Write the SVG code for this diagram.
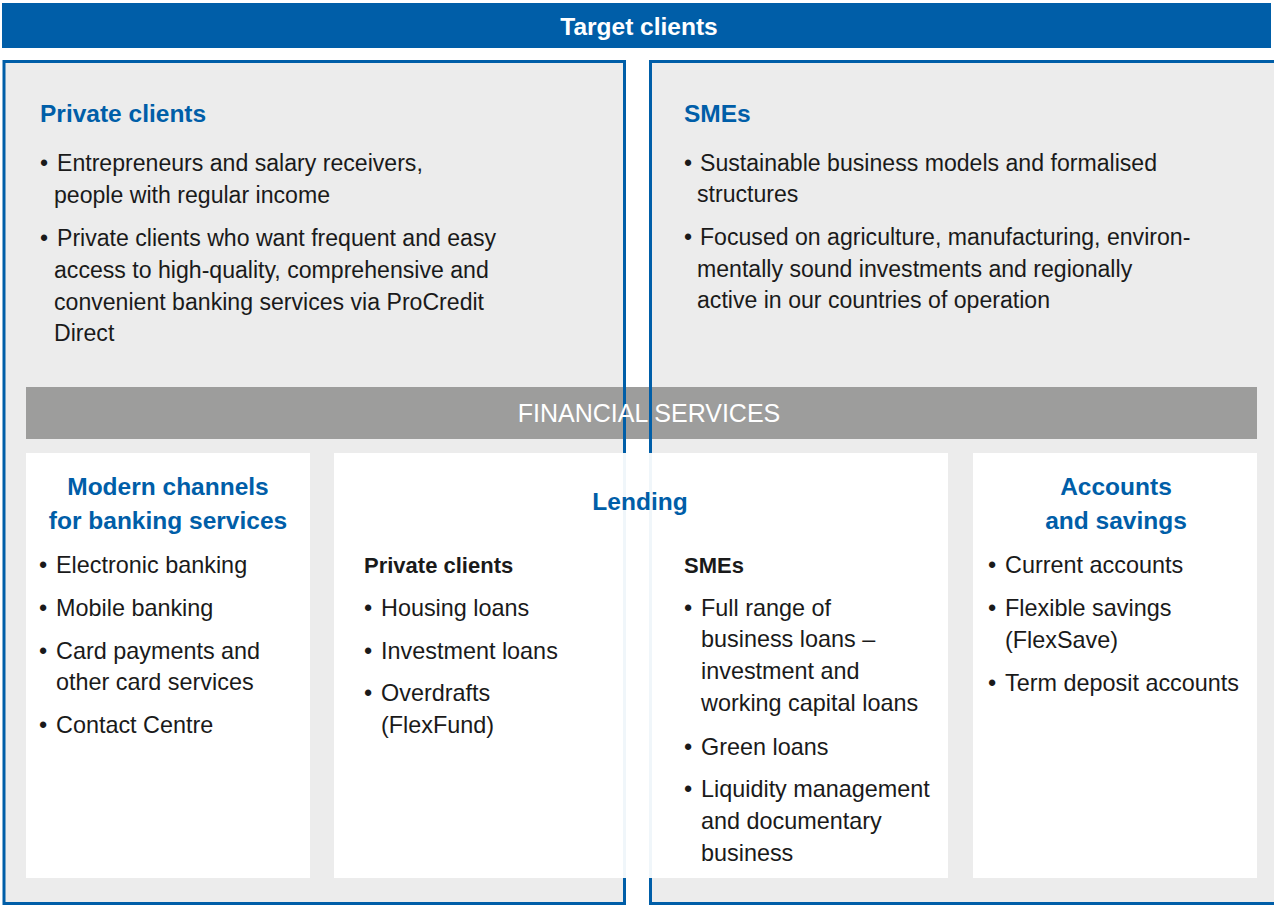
<svg xmlns="http://www.w3.org/2000/svg" width="1274" height="905" viewBox="0 0 1274 905">
<style>
text{font-family:"Liberation Sans",Arial,sans-serif;}
.panel{fill:#ECECEC;stroke:#005EA8;stroke-width:3;}
.box{fill:#FFFFFF;}
.h1{font-size:24.5px;font-weight:bold;fill:#005EA8;}
.hc{font-size:24.5px;font-weight:bold;fill:#005EA8;text-anchor:middle;}
.sub{font-size:22px;font-weight:bold;fill:#1A1A1A;}
.t{font-size:23.4px;fill:#1A1A1A;}
.tp{font-size:23.1px;fill:#1A1A1A;}
.white{fill:#FFFFFF;text-anchor:middle;}
</style>

<g id="target-clients-bar">
<rect x="2" y="3" width="1269" height="45" fill="#005EA8"/>
<text class="white" x="639" y="35" font-size="24.5" font-weight="bold">Target clients</text>
</g>

<g id="private-clients-panel">
<rect class="panel" x="4" y="61.5" width="620.5" height="842"/>
<text class="h1" x="40" y="122">Private clients</text>
<text class="tp"><tspan x="40" y="171">•</tspan><tspan x="57" y="171">Entrepreneurs and salary receivers,</tspan></text>
<text class="tp" x="54" y="203">people with regular income</text>
<text class="tp"><tspan x="40" y="246">•</tspan><tspan x="57" y="246">Private clients who want frequent and easy</tspan></text>
<text class="tp" x="54" y="278">access to high-quality, comprehensive and</text>
<text class="tp" x="54" y="310">convenient banking services via ProCredit</text>
<text class="tp" x="54" y="341">Direct</text>
</g>

<g id="smes-panel">
<rect class="panel" x="650.5" y="61.5" width="625" height="842"/>
<text class="h1" x="684" y="122">SMEs</text>
<text class="tp"><tspan x="684" y="171">•</tspan><tspan x="700" y="171">Sustainable business models and formalised</tspan></text>
<text class="tp" x="697" y="202">structures</text>
<text class="tp"><tspan x="684" y="245">•</tspan><tspan x="700" y="245">Focused on agriculture, manufacturing, environ-</tspan></text>
<text class="tp" x="697" y="277">mentally sound investments and regionally</text>
<text class="tp" x="697" y="308">active in our countries of operation</text>
</g>

<g id="financial-services-bar">
<rect x="26" y="387" width="1231" height="52" fill="#9D9D9C"/>
<line x1="624.5" y1="387" x2="624.5" y2="439" stroke="#005EA8" stroke-width="3"/>
<line x1="650.5" y1="387" x2="650.5" y2="439" stroke="#005EA8" stroke-width="3"/>
<text class="white" x="649" y="422" font-size="25">FINANCIAL SERVICES</text>
</g>

<g id="modern-channels">
<rect class="box" x="26" y="453" width="284" height="425"/>
<text class="hc" x="168" y="495">Modern channels</text>
<text class="hc" x="168" y="529">for banking services</text>
<text class="t"><tspan x="39" y="573">•</tspan><tspan x="56" y="573">Electronic banking</tspan></text>
<text class="t"><tspan x="39" y="616">•</tspan><tspan x="56" y="616">Mobile banking</tspan></text>
<text class="t"><tspan x="39" y="659">•</tspan><tspan x="56" y="659">Card payments and</tspan></text>
<text class="t" x="56" y="690">other card services</text>
<text class="t"><tspan x="39" y="733">•</tspan><tspan x="56" y="733">Contact Centre</tspan></text>
</g>

<g id="lending">
<rect class="box" x="334" y="453" width="614" height="425"/>
<line x1="624.5" y1="453" x2="624.5" y2="878" stroke="#005EA8" stroke-width="3" stroke-opacity="0.06"/>
<line x1="650.5" y1="453" x2="650.5" y2="878" stroke="#005EA8" stroke-width="3" stroke-opacity="0.06"/>
<text class="hc" x="640" y="510">Lending</text>
<text class="sub" x="364" y="573">Private clients</text>
<text class="t"><tspan x="364" y="616">•</tspan><tspan x="381" y="616">Housing loans</tspan></text>
<text class="t"><tspan x="364" y="659">•</tspan><tspan x="381" y="659">Investment loans</tspan></text>
<text class="t"><tspan x="364" y="701">•</tspan><tspan x="381" y="701">Overdrafts</tspan></text>
<text class="t" x="381" y="733">(FlexFund)</text>
<text class="sub" x="684" y="573">SMEs</text>
<text class="t"><tspan x="684" y="616">•</tspan><tspan x="701" y="616">Full range of</tspan></text>
<text class="t" x="701" y="647">business loans –</text>
<text class="t" x="701" y="679">investment and</text>
<text class="t" x="701" y="711">working capital loans</text>
<text class="t"><tspan x="684" y="755">•</tspan><tspan x="701" y="755">Green loans</tspan></text>
<text class="t"><tspan x="684" y="797">•</tspan><tspan x="701" y="797">Liquidity management</tspan></text>
<text class="t" x="701" y="829">and documentary</text>
<text class="t" x="701" y="861">business</text>
</g>

<g id="accounts-savings">
<rect class="box" x="973" y="453" width="284" height="425"/>
<text class="hc" x="1116" y="495">Accounts</text>
<text class="hc" x="1116" y="529">and savings</text>
<text class="t"><tspan x="988" y="573">•</tspan><tspan x="1005" y="573">Current accounts</tspan></text>
<text class="t"><tspan x="988" y="616">•</tspan><tspan x="1005" y="616">Flexible savings</tspan></text>
<text class="t" x="1005" y="648">(FlexSave)</text>
<text class="t"><tspan x="988" y="691">•</tspan><tspan x="1005" y="691">Term deposit accounts</tspan></text>
</g>

<g id="connectors"></g>
</svg>
